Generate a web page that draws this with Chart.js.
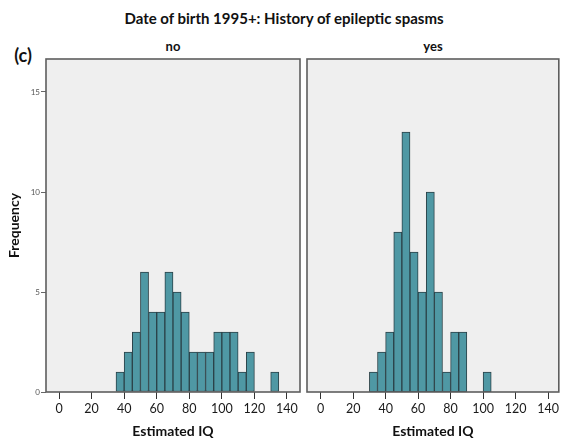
<!DOCTYPE html>
<html><head><meta charset="utf-8">
<script src="https://cdn.jsdelivr.net/npm/chart.js@4/dist/chart.umd.min.js"></script>
<style>
html,body{margin:0;padding:0;background:#fff;}
#wrap{position:relative;width:561px;height:443px;overflow:hidden;font-family:Lato,"Open Sans",sans-serif;}
.t{position:absolute;font-weight:bold;color:#111;white-space:nowrap;transform:translate(-50%,-50%);line-height:1;}
canvas{position:absolute;top:0;left:0;}
</style></head><body>
<div id="wrap">
<div class="t" style="left:284px;top:18px;font-size:15px">Date of birth 1995+: History of epileptic spasms</div>
<div class="t" style="left:23px;top:55px;font-size:18px">(c)</div>
<div class="t" id="lab1" style="left:173px;top:46px;font-size:13px"></div>
<div class="t" id="lab2" style="left:433px;top:46px;font-size:13px"></div>
<div style="position:absolute;left:0;top:0;width:303px;height:443px"><canvas id="c1" width="303" height="443"></canvas></div>
<div style="position:absolute;left:303px;top:0;width:258px;height:443px"><canvas id="c2" width="258" height="443"></canvas></div>
</div>
<script>
const binStart = [30,35,40,45,50,55,60,65,70,75,80,85,90,95,100,105,110,115,120,125,130];
const binWidth = 5;
const countsNo  = [0,1,2,3,6,4,4,6,5,4,2,2,2,3,3,3,1,2,0,0,1];
const countsYes = [1,2,3,8,13,7,5,10,5,1,3,3,0,0,1,0,0,0,0,0,0];
const panelLabels = ['no','yes'];
const xTicks = [0,20,40,60,80,100,120,140];
const yTicks = [0,5,10,15];
const xTitle = 'Estimated IQ';
const yTitle = 'Frequency';

document.getElementById('lab1').textContent = panelLabels[0];
document.getElementById('lab2').textContent = panelLabels[1];

const FONT = 'Lato, "Open Sans", sans-serif';
const panelPlugin = {
  id: 'panel',
  beforeDraw(chart) {
    const a = chart.chartArea, ctx = chart.ctx;
    ctx.save();
    ctx.fillStyle = '#efefef';
    ctx.fillRect(a.left, a.top, a.right - a.left, a.bottom - a.top);
    ctx.restore();
  },
  afterDatasetsDraw(chart) {
    const a = chart.chartArea, ctx = chart.ctx;
    ctx.save();
    ctx.strokeStyle = '#5e5e5e';
    ctx.lineWidth = 1.6;
    ctx.strokeRect(a.left, a.top, a.right - a.left, a.bottom - a.top);
    ctx.restore();
  }
};

function makeChart(id, counts, xmin, xmax, showY, pad) {
  return new Chart(document.getElementById(id), {
    type: 'bar',
    data: {
      datasets: [{
        data: binStart.map((s, i) => ({x: s + binWidth / 2, y: counts[i]})),
        backgroundColor: '#4f98a4',
        borderColor: '#2b4248',
        borderWidth: 1,
        borderSkipped: false,
        barPercentage: 1,
        categoryPercentage: 1
      }]
    },
    options: {
      responsive: false,
      animation: false,
      layout: {padding: pad},
      plugins: {legend: {display: false}, tooltip: {enabled: false}},
      scales: {
        x: {
          type: 'linear', min: xmin, max: xmax, offset: false,
          afterBuildTicks: s => { s.ticks = xTicks.map(v => ({value: v})); },
          afterFit: s => { s.height = 51; },
          grid: {offset: false, drawOnChartArea: false, drawTicks: true, tickLength: 7, color: '#333', lineWidth: 1},
          border: {display: false},
          ticks: {font: {size: 12.5, family: FONT}, color: '#1a1a1a', padding: 2, maxRotation: 0, autoSkip: false},
          title: {display: true, text: xTitle, font: {size: 14, weight: 'bold', family: FONT}, color: '#111', padding: {top: 0, bottom: 3}}
        },
        y: {
          type: 'linear', min: 0, max: 16.65, display: showY,
          afterBuildTicks: s => { s.ticks = yTicks.map(v => ({value: v})); },
          afterFit: s => { s.width = showY ? 46 : 0; },
          grid: {drawOnChartArea: false, drawTicks: true, tickLength: 5, color: '#666', lineWidth: 1},
          border: {display: false},
          ticks: {font: {size: 8, family: FONT}, color: '#555', padding: 1},
          title: {display: true, text: yTitle, font: {size: 14, weight: 'bold', family: FONT}, color: '#111', padding: {top: 6, bottom: 0}}
        }
      }
    },
    plugins: [panelPlugin]
  });
}

makeChart('c1', countsNo, -8, 148, true, {left: 0, top: 59, right: 3, bottom: 0});
makeChart('c2', countsYes, -8.4, 146.6, false, {left: 4, top: 59, right: 1, bottom: 0});
</script>
</body></html>
